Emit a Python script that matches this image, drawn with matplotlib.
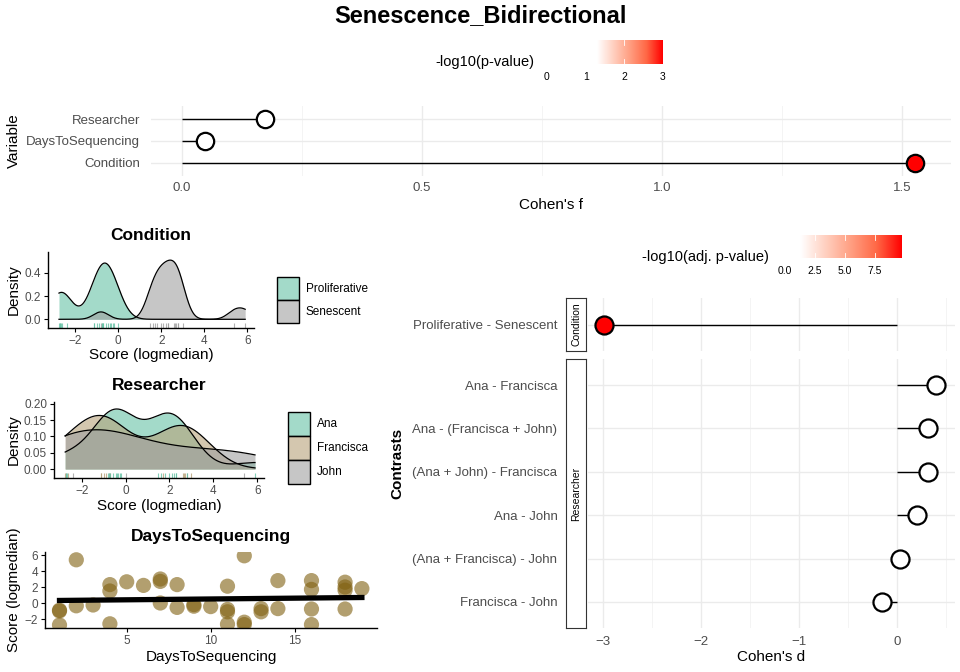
import numpy as np
import matplotlib.pyplot as plt
from matplotlib.colors import LinearSegmentedColormap
from matplotlib.patches import Rectangle

plt.rcParams['font.family'] = ['Liberation Sans', 'DejaVu Sans']

W, H = 960, 672

# ---- effect sizes (top) ----
variables = ['Condition', 'DaysToSequencing', 'Researcher']
cohens_f = [1.527, 0.048, 0.173]
neglog_p = [3.0, 0.05, 0.30]

# ---- contrasts (right) ----
contr_cond = ['Proliferative - Senescent']
d_cond = [-2.99]
padj_cond = [9.75]
contr_res = ['Ana - Francisca', 'Ana - (Francisca + John)', '(Ana + John) - Francisca',
             'Ana - John', '(Ana + Francisca) - John', 'Francisca - John']
d_res = [0.40, 0.32, 0.315, 0.20, 0.035, -0.15]
padj_res = [0.2, 0.2, 0.2, 0.1, 0.0, 0.0]

# ---- samples ----
days = [1, 1, 1, 2, 2, 3, 4, 4, 4, 5, 6, 7, 7, 7, 8, 8, 9, 9, 10, 11, 11, 11, 11,
        12, 12, 12, 13, 13, 14, 14, 16, 16, 16, 16, 18, 18, 18, 18, 19]
score = [-0.9, -1.0, -2.75, 5.4, -0.35, -0.25, 2.3, 1.5, -2.6, 2.65, 2.2, 3.0, 2.7,
         0.0, 2.3, -0.55, -0.2, -0.4, -0.45, 2.1, -0.8, -1.1, -2.65, 5.9, -2.4, -2.7,
         -0.7, -1.1, 2.8, -0.7, 2.8, 1.7, -0.75, -2.7, 2.6, 2.0, 1.6, -0.75, 1.8]
cond_code = "PPPSPPSSPSSSSPSPPPPSSPPSPPPPSPSSPPSSSPS"
res_code = "FFFJAAAAFFAFFJAAAAAAAFAAJJFFJAAFJAFAAAA"

cond_names = {'P': 'Proliferative', 'S': 'Senescent'}
res_names = {'A': 'Ana', 'F': 'Francisca', 'J': 'John'}
condition = [cond_names[c] for c in cond_code]
researcher = [res_names[c] for c in res_code]

cond_levels = ['Proliferative', 'Senescent']
res_levels = ['Ana', 'Francisca', 'John']
cond_cols = {'Proliferative': '#66C2A5', 'Senescent': '#A0A0A0'}
res_cols = {'Ana': '#66C2A5', 'Francisca': '#B8A27A', 'John': '#A0A0A0'}

score = np.array(score)
days = np.array(days)


def kde_nrd0(x, grid):
    x = np.asarray(x)
    n = len(x)
    q75, q25 = np.percentile(x, [75, 25])
    bw = 0.9 * min(x.std(ddof=1), (q75 - q25) / 1.34) * n ** -0.2
    z = (grid[:, None] - x[None, :]) / bw
    return np.exp(-0.5 * z ** 2).sum(1) / (n * bw * np.sqrt(2 * np.pi))


def pval_cmap(vmax):
    t0 = 1.3 / vmax
    cols = ['#FFFFFF', '#FFCFBF', '#FF9E81', '#FF6846', '#FF0000']
    nodes = [(0, '#FFFFFF')] + [(t0 + (1 - t0) * i / 4, c) for i, c in enumerate(cols)]
    return LinearSegmentedColormap.from_list('pv', nodes)


fig = plt.figure(figsize=(W / 100, H / 100), dpi=100)


def px_axes(l, t, r, b):
    return fig.add_axes([l / W, 1 - b / H, (r - l) / W, (b - t) / H])


def ftext(x, y, s, **kw):
    kw.setdefault('ha', 'center')
    kw.setdefault('va', 'center')
    fig.text(x / W, 1 - y / H, s, **kw)


def colorbar(l, t, r, b, vmax, ticks, labels, title, tx):
    cax = px_axes(l, t, r, b)
    grad = np.linspace(0, vmax, 256)[None, :]
    cax.imshow(grad, cmap=pval_cmap(vmax), vmin=0, vmax=vmax, aspect='auto',
               extent=[0, vmax, 0, 1])
    for v in ticks:
        cax.plot([v, v], [0, 0.2], color='white', lw=0.6)
        cax.plot([v, v], [0.8, 1], color='white', lw=0.6)
    cax.set_xlim(0, vmax)
    cax.set_ylim(0, 1)
    cax.axis('off')
    for v, lab in zip(ticks, labels):
        ftext(l + v / vmax * (r - l), b + 13, lab, fontsize=7.5)
    ftext(tx, (t + b) / 2 + 10, title, ha='left', fontsize=10.5)


def minimal(ax):
    for s in ax.spines.values():
        s.set_visible(False)
    ax.tick_params(which='both', length=0, labelcolor='#4D4D4D', labelsize=9.5)
    ax.grid(which='major', color='#EBEBEB', lw=1.0)
    ax.grid(which='minor', axis='x', color='#F2F2F2', lw=0.6)
    ax.set_axisbelow(True)


ftext(480, 16, 'Senescence_Bidirectional', fontsize=17, fontweight='bold')

# ---------------- top: Cohen's f ----------------
ax = px_axes(151, 106, 951, 176)
ypos = np.arange(len(variables))
cm_top = pval_cmap(3.0)
ax.hlines(ypos, 0, cohens_f, color='black', lw=1.0, zorder=2)
for y, f, p in zip(ypos, cohens_f, neglog_p):
    ax.plot(f, y, 'o', ms=12.5, mfc=cm_top(min(p, 3.0) / 3.0), mec='black', mew=1.6, zorder=3)
ax.set_xlim(-0.0646, 1.602)
ax.set_ylim(-0.6, 2.6)
ax.set_yticks(ypos, variables)
ax.set_xticks([0, 0.5, 1.0, 1.5], ['0.0', '0.5', '1.0', '1.5'])
ax.set_xticks([0.25, 0.75, 1.25], minor=True)
minimal(ax)
ax.tick_params(axis='y', pad=8)
ax.tick_params(axis='x', pad=4)
ftext(551, 205, "Cohen's f", fontsize=11)
ftext(14, 141, 'Variable', fontsize=11, rotation=90)
colorbar(547, 40, 663, 64, 3.0, [0, 1, 2, 3], ['0', '1', '2', '3'], '-log10(p-value)', 435)


# ---------------- density panels ----------------
grid = np.linspace(score.min(), score.max(), 512)


def classic(ax):
    ax.spines['top'].set_visible(False)
    ax.spines['right'].set_visible(False)
    for s in ('left', 'bottom'):
        ax.spines[s].set_linewidth(1.0)
    ax.tick_params(length=3, width=0.8, labelsize=8.5, labelcolor='#4D4D4D', pad=2)


def density_panel(box, groups, levels, cols, ylim, yticks, ylabels, title, ty, xy, leg_x, leg_y, key_h):
    ax = px_axes(*box)
    for g in levels:
        vals = score[np.array(groups) == g]
        dens = kde_nrd0(vals, grid)
        ax.fill_between(grid, 0, dens, color=cols[g], alpha=0.6, lw=0)
        ax.plot(grid, dens, color='black', lw=0.9)
    rug_top = ylim[0] + (0 - ylim[0]) * 0.6
    for s, g in zip(score, groups):
        ax.vlines(s, ylim[0], rug_top, color=cols[g], lw=0.8, alpha=0.8)
    ax.set_xlim(-3.26, 6.31)
    ax.set_ylim(*ylim)
    ax.set_xticks([-2, 0, 2, 4, 6])
    ax.set_yticks(yticks, ylabels)
    classic(ax)
    l, t, r, b = box
    ftext((l + r) / 2, ty, title, fontsize=12.5, fontweight='bold')
    ftext((l + r) / 2, xy, 'Score (logmedian)', fontsize=11)
    ftext(14, (t + b) / 2, 'Density', fontsize=11, rotation=90)
    for i, g in enumerate(levels):
        y0 = leg_y + i * key_h
        fig.add_artist(Rectangle((leg_x / W, 1 - (y0 + key_h) / H), 22 / W, key_h / H,
                                 transform=fig.transFigure, facecolor=cols[g], alpha=0.6,
                                 edgecolor='none'))
        fig.add_artist(Rectangle((leg_x / W, 1 - (y0 + key_h) / H), 22 / W, key_h / H,
                                 transform=fig.transFigure, facecolor='none',
                                 edgecolor='black', lw=1.0))
        ftext(leg_x + 29, y0 + key_h / 2, g, ha='left', fontsize=8.5)


density_panel((48, 252, 254, 328), condition, cond_levels, cond_cols, (-0.075, 0.58),
              [0, 0.2, 0.4], ['0.0', '0.2', '0.4'], 'Condition', 236, 355, 277, 277, 23)
density_panel((54, 402, 264, 478), researcher, res_levels, res_cols, (-0.0276, 0.2055),
              [0, 0.05, 0.10, 0.15, 0.20], ['0.00', '0.05', '0.10', '0.15', '0.20'],
              'Researcher', 385, 506, 288, 412, 24)

# ---------------- scatter ----------------
ax = px_axes(45, 552, 377, 628)
ax.scatter(days, score, s=120, color='#806010', alpha=0.6, edgecolors='none', zorder=2)
slope, icpt = np.polyfit(days, score, 1)
xx = np.array([days.min(), days.max()])
ax.plot(xx, icpt + slope * xx, color='black', lw=3.8, zorder=3)
ax.set_xlim(0.137, 19.9)
ax.set_ylim(-3.125, 6.375)
ax.set_xticks([5, 10, 15])
ax.set_yticks([-2, 0, 2, 4, 6])
classic(ax)
ftext(211, 537, 'DaysToSequencing', fontsize=12.5, fontweight='bold')
ftext(211, 657, 'DaysToSequencing', fontsize=11)
ftext(14, 590, 'Score (logmedian)', fontsize=11, rotation=90)

# ---------------- right: contrasts ----------------
cm_r = pval_cmap(9.75)
panels = [((588, 298, 955, 351), contr_cond, d_cond, padj_cond, 'Condition'),
          ((588, 359, 955, 628), contr_res, d_res, padj_res, 'Researcher')]
for k, (box, labs, dv, pv, strip) in enumerate(panels):
    ax = px_axes(*box)
    n = len(labs)
    yy = np.arange(n, 0, -1)
    ax.hlines(yy, 0, dv, color='black', lw=1.0, zorder=2)
    for y, d, p in zip(yy, dv, pv):
        ax.plot(d, y, 'o', ms=13, mfc=cm_r(min(p, 9.75) / 9.75), mec='black', mew=1.6, zorder=3)
    ax.set_xlim(-3.153, 0.592)
    ax.set_ylim(0.4, n + 0.6)
    ax.set_yticks(yy, labs)
    ax.set_xticks([-3, -2, -1, 0])
    ax.set_xticks([-2.5, -1.5, -0.5, 0.5], minor=True)
    minimal(ax)
    ax.tick_params(axis='y', pad=22)
    ax.tick_params(axis='x', pad=6)
    if k == 0:
        ax.tick_params(axis='x', labelbottom=False)
    l, t, r, b = box
    sax = px_axes(566, t, 586, b)
    sax.set_xticks([])
    sax.set_yticks([])
    for s in sax.spines.values():
        s.set_color('#333333')
        s.set_linewidth(0.8)
    sax.text(0.5, 0.5, strip, rotation=90, ha='center', va='center', fontsize=7.5,
             transform=sax.transAxes)

ftext(397, 463, 'Contrasts', fontsize=11, fontweight='bold', rotation=90)
ftext(771, 657, "Cohen's d", fontsize=11)
colorbar(785, 235, 902, 258, 9.75, [0, 2.5, 5.0, 7.5], ['0.0', '2.5', '5.0', '7.5'],
         '-log10(adj. p-value)', 642)

fig.savefig('out.png', dpi=100)
